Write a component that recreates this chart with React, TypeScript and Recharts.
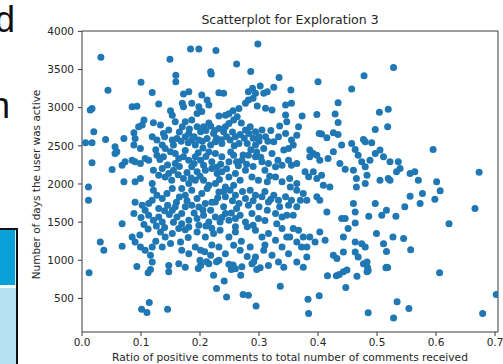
import React from 'react';
import { ScatterChart, Scatter, XAxis, YAxis, ReferenceLine } from 'recharts';

const xTicks = [0, 0.1, 0.2, 0.3, 0.4, 0.5, 0.6, 0.7];
const yTicks = [500, 1000, 1500, 2000, 2500, 3000, 3500, 4000];
const title = 'Scatterplot for Exploration 3';
const xLabel = 'Ratio of positive comments to total number of comments received';
const yLabel = 'Number of days the user was active';

// [ratio of positive comments, number of days active]
const topPoints: [number, number][] = [
  [0.032, 3661], [0.1, 3333], [0.149, 3635], [0.159, 3425], [0.159, 3341], [0.184, 3770], [0.198, 3770],
  [0.227, 3748], [0.218, 3470], [0.219, 3440], [0.262, 3574], [0.286, 3473], [0.298, 3836], [0.289, 3255],
  [0.302, 3285], [0.334, 3394], [0.4, 3341], [0.478, 3420], [0.528, 3525], [0.457, 3246], [0.325, 3268],
];

const upperPoints: [number, number][] = [
  [0.044, 3228], [0.119, 3200], [0.172, 3180], [0.181, 3210], [0.203, 3166], [0.212, 3100], [0.232, 3197],
  [0.24, 3190], [0.282, 3210], [0.294, 3190], [0.308, 3190], [0.314, 3210], [0.017, 2990], [0.014, 2970],
  [0.085, 3013], [0.093, 3020], [0.13, 3048], [0.15, 2960], [0.153, 2900], [0.17, 3057], [0.186, 3057],
  [0.198, 3013], [0.215, 3035], [0.203, 2950], [0.195, 2925], [0.243, 2900], [0.232, 2890], [0.249, 2920],
  [0.266, 2990], [0.277, 3057], [0.282, 3100], [0.322, 2970], [0.345, 3035], [0.172, 3013], [0.256, 2960],
  [0.29, 3124], [0.297, 3023], [0.311, 2993], [0.105, 2840],
  [0.02, 2685], [0.006, 2540], [0.017, 2540], [0.04, 2584], [0.056, 2488], [0.056, 2400], [0.071, 2597],
  [0.088, 2672], [0.09, 2597], [0.096, 2750], [0.102, 2772], [0.088, 2510], [0.099, 2466], [0.121, 2803],
  [0.133, 2772], [0.119, 2619], [0.127, 2575], [0.138, 2663], [0.147, 2707], [0.153, 2575], [0.155, 2510],
  [0.161, 2597], [0.136, 2510], [0.141, 2466], [0.158, 2816], [0.175, 2816], [0.186, 2838], [0.195, 2750],
  [0.201, 2685], [0.206, 2750], [0.181, 2663], [0.186, 2575], [0.198, 2575], [0.192, 2510], [0.212, 2597],
  [0.223, 2663], [0.232, 2728], [0.24, 2685], [0.249, 2794], [0.257, 2838], [0.263, 2882], [0.218, 2510],
  [0.226, 2553], [0.237, 2531], [0.251, 2575], [0.26, 2619], [0.266, 2531], [0.277, 2707], [0.285, 2750],
  [0.294, 2685], [0.305, 2707], [0.311, 2619], [0.325, 2553], [0.333, 2619], [0.345, 2663], [0.347, 2816],
  [0.345, 2904], [0.28, 2531], [0.294, 2510], [0.308, 2466], [0.342, 2444], [0.35, 2466],
  [0.17, 2750], [0.165, 2680], [0.215, 2800], [0.27, 2800], [0.29, 2600], [0.3, 2560], [0.32, 2700],
  [0.335, 2760], [0.18, 2540], [0.245, 2620], [0.228, 2600], [0.21, 2700], [0.175, 2620],
];

const middlePoints: [number, number][] = [
  [0.017, 2278], [0.051, 2190], [0.059, 2422], [0.068, 2247], [0.073, 2290], [0.085, 2312], [0.09, 2290],
  [0.099, 2268], [0.107, 2334], [0.113, 2312], [0.071, 2028], [0.09, 2028], [0.099, 2072], [0.121, 2181],
  [0.13, 2115], [0.136, 2203], [0.141, 2093], [0.147, 2137], [0.155, 2181], [0.158, 2268], [0.164, 2334],
  [0.127, 2378], [0.138, 2356], [0.15, 2422], [0.158, 2400], [0.172, 2356], [0.181, 2312], [0.192, 2356],
  [0.201, 2312], [0.206, 2247], [0.186, 2225], [0.195, 2159], [0.209, 2181], [0.22, 2203], [0.229, 2137],
  [0.172, 2072], [0.181, 2006], [0.192, 2050], [0.206, 2050], [0.215, 1984], [0.226, 2400], [0.237, 2356],
  [0.249, 2290], [0.257, 2378], [0.271, 2312], [0.237, 2159], [0.249, 2093], [0.26, 2137], [0.268, 2050],
  [0.277, 2181], [0.282, 2378], [0.294, 2356], [0.305, 2290], [0.316, 2268], [0.328, 2225], [0.339, 2247],
  [0.35, 2312], [0.288, 2093], [0.299, 2050], [0.314, 2028], [0.328, 2093], [0.339, 2028], [0.353, 1962],
  [0.011, 1962], [0.226, 2006], [0.243, 1962], [0.257, 1984],
  [0.165, 2230], [0.175, 2440], [0.215, 2420], [0.265, 2240], [0.29, 2230], [0.235, 2260], [0.2, 2100],
  [0.011, 1787], [0.119, 2006], [0.121, 1918], [0.127, 1853], [0.136, 1809], [0.144, 1875], [0.153, 1940],
  [0.113, 1743], [0.119, 1787], [0.169, 1940], [0.175, 1853], [0.186, 1918], [0.195, 1809], [0.203, 1875],
  [0.212, 1940], [0.186, 1721], [0.198, 1699], [0.209, 1743], [0.218, 1656], [0.226, 1765], [0.232, 1896],
  [0.243, 1831], [0.251, 1918], [0.26, 1853], [0.266, 1743], [0.277, 1809], [0.285, 1918], [0.294, 1853],
  [0.305, 1831], [0.316, 1765], [0.325, 1853], [0.333, 1787], [0.345, 1831], [0.35, 1721], [0.102, 1721],
  [0.107, 1656], [0.113, 1590], [0.121, 1524], [0.13, 1568], [0.136, 1502], [0.088, 1612], [0.068, 1480],
  [0.153, 1656], [0.161, 1568], [0.169, 1612], [0.181, 1524], [0.195, 1546], [0.206, 1590], [0.215, 1502],
  [0.226, 1568], [0.234, 1502], [0.243, 1612], [0.249, 1524], [0.26, 1546], [0.268, 1590], [0.277, 1502],
  [0.288, 1612], [0.299, 1546], [0.314, 1656], [0.328, 1612], [0.339, 1568], [0.347, 1590],
  [0.1, 1560], [0.105, 1470], [0.098, 1330], [0.112, 1410], [0.126, 1450], [0.13, 1680], [0.145, 1720],
  [0.16, 1760], [0.175, 1700], [0.24, 1700], [0.3, 1700], [0.09, 1760],
];

const denseCorePoints: [number, number][] = [
  [0.125, 2450], [0.132, 2320], [0.145, 2250], [0.152, 2050], [0.163, 2120], [0.178, 2150], [0.185, 2080],
  [0.19, 2270], [0.197, 2410], [0.205, 2470], [0.21, 2360], [0.22, 2290], [0.228, 2220], [0.233, 2060],
  [0.245, 2200], [0.252, 2420], [0.258, 2500], [0.262, 2290], [0.273, 2380], [0.279, 2260], [0.286, 2450],
  [0.296, 2420], [0.303, 2350], [0.31, 2180], [0.318, 2100], [0.322, 2400], [0.332, 2310], [0.14, 2620],
  [0.168, 2560], [0.182, 2720], [0.19, 2620], [0.204, 2560], [0.218, 2760], [0.225, 2700], [0.236, 2580],
  [0.243, 2750], [0.255, 2680], [0.268, 2650], [0.275, 2600], [0.283, 2660], [0.3, 2620], [0.315, 2560],
  [0.24, 1900], [0.23, 1820], [0.22, 1760], [0.205, 1660], [0.19, 1620], [0.178, 1780], [0.165, 1830],
  [0.158, 1700], [0.148, 1600], [0.14, 1650], [0.255, 1780], [0.262, 1680], [0.272, 1900], [0.282, 1720],
  [0.29, 1780], [0.31, 1900], [0.32, 1800], [0.335, 1700], [0.253, 1620], [0.237, 1560], [0.21, 1450],
  [0.22, 1420], [0.198, 1460], [0.175, 1400], [0.28, 1440], [0.29, 1460], [0.31, 1520], [0.33, 1480],
  [0.155, 1500], [0.14, 1430], [0.26, 1440],
];

const lowerPoints: [number, number][] = [
  [0.031, 1240], [0.037, 1130], [0.068, 1184], [0.085, 1306], [0.09, 1240], [0.099, 1175], [0.107, 1130],
  [0.116, 1066], [0.119, 1175], [0.133, 1372], [0.141, 1306], [0.153, 1350], [0.164, 1415], [0.169, 1480],
  [0.136, 1175], [0.15, 1219], [0.167, 1240], [0.169, 1130], [0.181, 1087], [0.192, 1175], [0.181, 1437],
  [0.195, 1372], [0.209, 1306], [0.223, 1350], [0.234, 1393], [0.249, 1306], [0.26, 1372], [0.201, 1130],
  [0.218, 1066], [0.232, 1175], [0.243, 1087], [0.257, 1197], [0.268, 1130], [0.285, 1175], [0.294, 1393],
  [0.305, 1306], [0.316, 1350], [0.328, 1262], [0.339, 1415], [0.347, 1306], [0.294, 1044], [0.308, 1130],
  [0.322, 1066], [0.339, 1175], [0.35, 1087], [0.093, 920], [0.119, 977], [0.147, 933], [0.164, 955],
  [0.175, 910], [0.201, 933], [0.215, 955], [0.232, 1000], [0.249, 947], [0.26, 890], [0.288, 955],
  [0.316, 933], [0.333, 977], [0.342, 910],
  [0.112, 836], [0.116, 880], [0.147, 849], [0.208, 1111], [0.197, 893], [0.211, 980], [0.228, 980],
  [0.256, 937], [0.271, 915], [0.291, 980], [0.302, 901], [0.296, 880], [0.253, 880], [0.2, 1000],
  [0.125, 1250], [0.18, 1300], [0.27, 1250], [0.31, 1200], [0.22, 1200], [0.28, 1050],
  [0.012, 836], [0.223, 805], [0.241, 727], [0.228, 631], [0.245, 520], [0.269, 805], [0.273, 552],
  [0.282, 543], [0.295, 400], [0.101, 359], [0.11, 316], [0.114, 447], [0.145, 359], [0.336, 661],
  [0.447, 644], [0.416, 796], [0.431, 796], [0.436, 815], [0.443, 849], [0.449, 871], [0.466, 792],
  [0.483, 849], [0.484, 906], [0.515, 901], [0.518, 906], [0.606, 836], [0.702, 552], [0.383, 490],
  [0.402, 534], [0.384, 303], [0.485, 311], [0.534, 455], [0.554, 368], [0.528, 245], [0.679, 303],
];

const rightPoints: [number, number][] = [
  [0.354, 3232], [0.355, 3057], [0.434, 3066], [0.429, 2917], [0.504, 2939], [0.519, 2978], [0.373, 2890],
  [0.398, 2912], [0.434, 2807], [0.497, 2715], [0.518, 2750], [0.367, 2750], [0.364, 2640], [0.402, 2663],
  [0.406, 2654], [0.415, 2606], [0.426, 2672], [0.434, 2650], [0.355, 2575], [0.358, 2510], [0.44, 2510],
  [0.457, 2531], [0.463, 2453], [0.477, 2584], [0.48, 2553], [0.491, 2540], [0.595, 2453], [0.673, 2155],
  [0.666, 1677], [0.622, 1480], [0.386, 2444], [0.392, 2400], [0.398, 2378], [0.403, 2312], [0.386, 2356],
  [0.426, 2422], [0.417, 2334], [0.437, 2269], [0.446, 2194], [0.46, 2181], [0.468, 2378], [0.474, 2291],
  [0.488, 2312], [0.497, 2400], [0.505, 2444], [0.511, 2356], [0.522, 2291], [0.536, 2291], [0.539, 2203],
  [0.533, 2160], [0.48, 2225], [0.483, 2116], [0.465, 2072], [0.48, 2006], [0.505, 2050], [0.519, 2072],
  [0.522, 2050], [0.556, 2137], [0.564, 2159], [0.57, 2050], [0.601, 2028], [0.607, 1910], [0.598, 1800],
  [0.577, 1875], [0.573, 1743], [0.556, 1840], [0.547, 1700], [0.355, 2247], [0.364, 2269], [0.352, 2072],
  [0.364, 2006], [0.378, 2160], [0.384, 2094], [0.392, 2160], [0.398, 2072], [0.406, 2116], [0.409, 1984],
  [0.42, 1962], [0.364, 1918], [0.375, 1875], [0.37, 1787], [0.381, 1787], [0.398, 1831], [0.403, 1787],
  [0.355, 1787], [0.364, 1700], [0.358, 1590], [0.415, 1634], [0.44, 1546], [0.446, 1546], [0.463, 1634],
  [0.46, 1743], [0.465, 1962], [0.497, 1743], [0.508, 1590], [0.516, 1656], [0.532, 1577], [0.486, 1577],
  [0.463, 1490], [0.451, 1415], [0.499, 1350], [0.527, 1306], [0.545, 1284], [0.511, 1218], [0.516, 1116],
  [0.557, 1138], [0.358, 1415], [0.367, 1393], [0.375, 1306], [0.386, 1306], [0.395, 1240], [0.403, 1371],
  [0.412, 1262], [0.364, 1240], [0.372, 1175], [0.381, 1175], [0.352, 1306], [0.443, 1306], [0.463, 1240],
  [0.474, 1218], [0.48, 1175], [0.463, 1109], [0.468, 1044], [0.477, 955], [0.483, 977], [0.426, 1066],
  [0.432, 1022], [0.443, 1109], [0.381, 1044], [0.375, 910], [0.364, 977], [0.516, 910], [0.485, 867],
];

const data = [...topPoints, ...upperPoints, ...middlePoints, ...denseCorePoints, ...lowerPoints, ...rightPoints].map(
  ([ratio, days]) => ({ ratio, days })
);

const FONT = 'DejaVu Sans';
const TEXT = '#262626';
const AXIS = '#3a3a3a';

const Dot = (props: any) => <circle cx={props.cx} cy={props.cy} r={3.5} fill="#1f77b4" />;

const XLabelContent = (props: any) => {
  const vb = props.viewBox || { x: 82, y: 332, width: 416, height: 32 };
  return (
    <text x={vb.x + vb.width / 2} y={vb.y + vb.height - 3} textAnchor="middle" fontSize={10.7} fontFamily={FONT} fill={TEXT}>
      {xLabel}
    </text>
  );
};

const YLabelContent = (props: any) => {
  const vb = props.viewBox || { x: 0, y: 31, width: 82, height: 301 };
  const cx = vb.x + 36;
  const cy = vb.y + vb.height / 2 + 3;
  return (
    <text x={cx} y={cy} transform={`rotate(-90 ${cx} ${cy})`} textAnchor="middle" dominantBaseline="central" fontSize={10.5} fontFamily={FONT} fill={TEXT}>
      {yLabel}
    </text>
  );
};

export default function App() {
  return (
    <div style={{ position: 'absolute', left: 0, top: 0, width: 503, height: 364, overflow: 'hidden', background: '#fff' }}>
      <div style={{ position: 'absolute', right: 488, top: 1.5, fontFamily: 'Liberation Sans', fontSize: 36, lineHeight: '36px', color: '#111', whiteSpace: 'nowrap' }}>d</div>
      <div style={{ position: 'absolute', right: 493, top: 87.5, fontFamily: 'Liberation Sans', fontSize: 36, lineHeight: '36px', color: '#111', whiteSpace: 'nowrap' }}>n</div>
      <div style={{ position: 'absolute', left: -12, top: 228, width: 30, height: 150, boxSizing: 'border-box', border: '2px solid #111', background: '#b5e1f2' }}>
        <div style={{ position: 'absolute', left: 0, top: 0, right: 0, height: 55, background: '#0aa1d8', borderRight: '1px solid #cfeef8' }} />
        <div style={{ position: 'absolute', left: 0, top: 55, right: 0, height: 3, background: '#ffffff' }} />
      </div>
      <div style={{ position: 'absolute', left: 0, top: 0 }}>
        <ScatterChart width={503} height={364} margin={{ top: 31, right: 5, bottom: 0, left: 0 }}>
          <XAxis
            type="number"
            dataKey="ratio"
            domain={[0, 0.705]}
            ticks={xTicks}
            tickFormatter={(v: number) => v.toFixed(1)}
            height={32}
            tickSize={4}
            tickMargin={3}
            stroke={AXIS}
            tick={{ fill: TEXT, fontSize: 10.5, fontFamily: FONT }}
            label={{ content: XLabelContent }}
            allowDataOverflow
          />
          <YAxis
            type="number"
            dataKey="days"
            domain={[60, 4005]}
            ticks={yTicks}
            width={82}
            tickSize={4}
            tickMargin={4}
            stroke={AXIS}
            tick={{ fill: TEXT, fontSize: 10.5, fontFamily: FONT }}
            label={{ content: YLabelContent }}
            allowDataOverflow
          />
          <ReferenceLine y={4005} stroke={AXIS} />
          <ReferenceLine x={0.705} stroke={AXIS} />
          <Scatter data={data} shape={Dot} isAnimationActive={false} />
        </ScatterChart>
      </div>
      <svg width={503} height={364} style={{ position: 'absolute', left: 0, top: 0, pointerEvents: 'none' }}>
        <text x={290} y={24} textAnchor="middle" fontSize={12.5} fontFamily={FONT} fill={TEXT}>
          {title}
        </text>
      </svg>
    </div>
  );
}
